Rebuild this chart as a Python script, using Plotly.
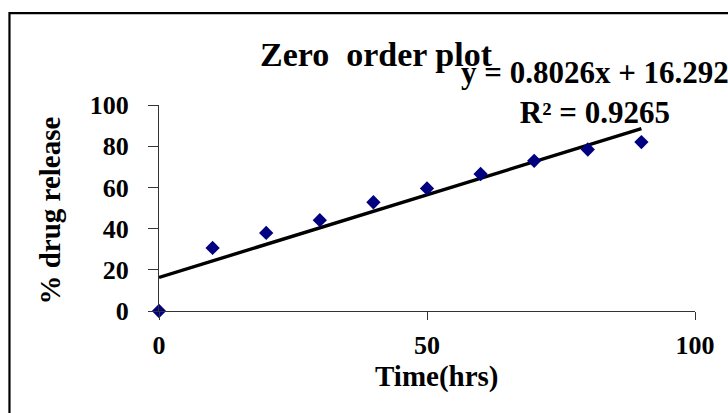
import plotly.graph_objects as go

# ---- data ----
time_hrs = [0, 10, 20, 30, 40, 50, 60, 70, 80, 90]
drug_release = [0, 30.6, 37.9, 44.1, 52.8, 59.5, 66.5, 72.9, 78.4, 82.0]
trend_slope = 0.8026
trend_intercept = 16.292
equation_text = "y = 0.8026x + 16.292"
r2_text = "R² = 0.9265"
title_text = "Zero\u00a0 order plot"
x_title = "Time(hrs)"
y_title = "% drug release"
x_ticks = [0, 50, 100]
y_ticks = [0, 20, 40, 60, 80, 100]

W, H = 728, 413
L, R, T, B = 158.7, 695.3, 105.0, 310.7


def px(x):
    return (x - L) / (R - L)


def py(y):
    return (B - y) / (B - T)


FONT = "Liberation Serif, Times New Roman, serif"

trend_x = [min(time_hrs), max(time_hrs)]
trend_y = [trend_slope * v + trend_intercept for v in trend_x]

fig = go.Figure()
fig.add_trace(go.Scatter(
    x=trend_x, y=trend_y, mode="lines",
    line=dict(color="black", width=3.4),
    cliponaxis=False, showlegend=False, hoverinfo="skip"))
fig.add_trace(go.Scatter(
    x=time_hrs, y=drug_release, mode="markers",
    marker=dict(symbol="diamond", size=11, color="#000080"),
    cliponaxis=False, showlegend=False))

axis_common = dict(
    showgrid=False, zeroline=False, showline=True, linecolor="#333333",
    linewidth=1, ticks="outside", tickcolor="#333333", tickwidth=1,
    tickfont=dict(family=FONT, size=26, color="black", weight="bold"),
)

fig.update_xaxes(range=[0, 100], tickvals=x_ticks, ticklen=8,
                 ticklabelstandoff=3, **axis_common)
fig.update_yaxes(range=[0, 100], tickvals=y_ticks, ticklen=10,
                 ticklabelstandoff=14, **axis_common)

annots = [
    dict(text=title_text, x=px(376.5), y=py(55), xanchor="center",
         yanchor="middle", font=dict(family=FONT, size=34, color="black", weight="bold")),
    dict(text=equation_text + "<br>" + r2_text, x=px(595), y=py(93),
         xanchor="center", yanchor="middle", align="center",
         font=dict(family=FONT, size=31, color="black", weight="bold")),
    dict(text=x_title, x=px(437), y=py(376), xanchor="center", yanchor="middle",
         font=dict(family=FONT, size=29, color="black", weight="bold")),
    dict(text=y_title, x=px(50), y=py(210), xanchor="center", yanchor="middle",
         textangle=-90,
         font=dict(family=FONT, size=29, color="black", weight="bold")),
]
for a in annots:
    a.update(xref="paper", yref="paper", showarrow=False)

fig.update_layout(
    width=W, height=H,
    margin=dict(l=L, r=W - R, t=T, b=H - B, pad=0),
    paper_bgcolor="white", plot_bgcolor="white",
    annotations=annots,
    shapes=[dict(type="rect", xref="paper", yref="paper",
                 x0=px(9), x1=px(745), y0=py(440), y1=py(13.3),
                 line=dict(color="black", width=2.2), layer="above")],
)

fig.write_html("out.html")
